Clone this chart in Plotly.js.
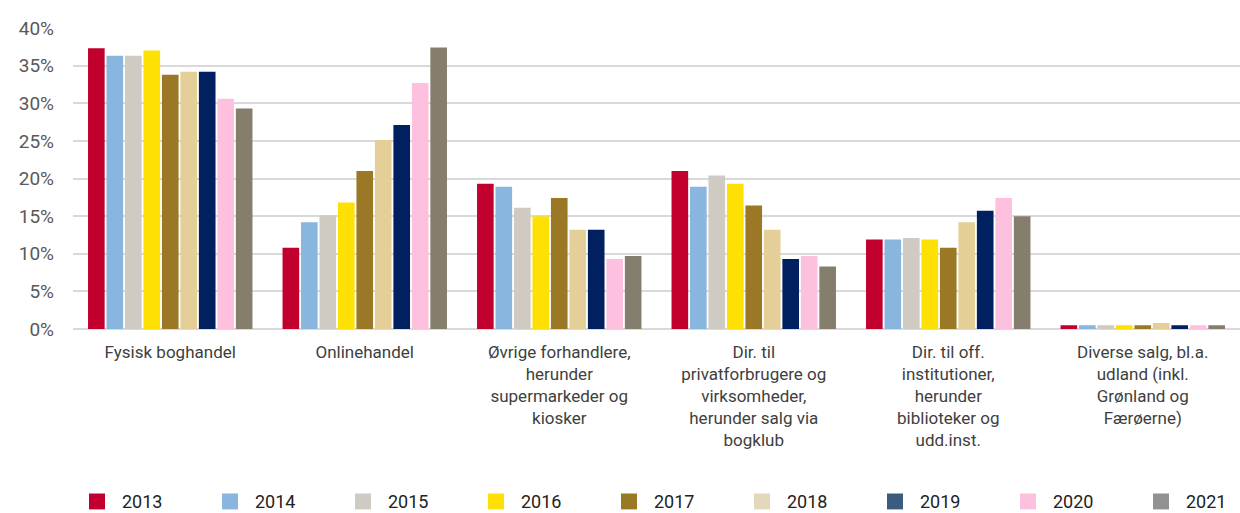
<!DOCTYPE html>
<html><head><meta charset="utf-8">
<script src="https://cdn.plot.ly/plotly-3.0.1.min.js"></script>
<style>html,body{margin:0;padding:0;background:#fff}#chart{width:1240px;height:513px}</style>
</head><body><div id="chart"></div>
<script>
const categories = [
  "Fysisk boghandel",
  "Onlinehandel",
  "Øvrige forhandlere,<br>herunder<br>supermarkeder og<br>kiosker",
  "Dir. til<br>privatforbrugere og<br>virksomheder,<br>herunder salg via<br>bogklub",
  "Dir. til off.<br>institutioner,<br>herunder<br>biblioteker og<br>udd.inst.",
  "Diverse salg, bl.a.<br>udland (inkl.<br>Grønland og<br>Færøerne)"
];
const years = ["2013","2014","2015","2016","2017","2018","2019","2020","2021"];
const v2013 = [37.3, 10.8, 19.3, 21.0, 11.9, 0.5];
const v2014 = [36.3, 14.2, 18.9, 18.9, 11.9, 0.5];
const v2015 = [36.3, 15.1, 16.1, 20.4, 12.1, 0.5];
const v2016 = [37.0, 16.8, 15.0, 19.3, 11.9, 0.5];
const v2017 = [33.8, 21.0, 17.4, 16.4, 10.8, 0.5];
const v2018 = [34.2, 25.1, 13.2, 13.2, 14.2, 0.8];
const v2019 = [34.2, 27.1, 13.2, 9.3, 15.7, 0.5];
const v2020 = [30.6, 32.7, 9.3, 9.7, 17.4, 0.5];
const v2021 = [29.3, 37.4, 9.7, 8.3, 15.0, 0.5];
const seriesValues = [v2013, v2014, v2015, v2016, v2017, v2018, v2019, v2020, v2021];
const barColors = ["#c1002e","#88b6de","#cfcbc3","#fee005","#9b7825","#e5cf98","#00205f","#fdc1df","#857e6d"];
const legendColors = ["#c1002e","#88b6de","#cfcbc3","#fee005","#9b7825","#e2d8bc","#3b5c80","#fdc1df","#919191"];
const yTicks = [0,5,10,15,20,25,30,35,40];
const yTickText = yTicks.map(t => t + "%");

const FONT = "Roboto, 'DejaVu Sans', sans-serif";
const traces = [];
years.forEach((yr, i) => {
  traces.push({
    type: "bar", name: yr, x: categories, y: seriesValues[i],
    marker: {color: barColors[i]}, showlegend: false, hoverinfo: "x+y"
  });
});
years.forEach((yr, i) => {
  traces.push({
    type: "scatter", mode: "markers", name: yr, x: [null], y: [null],
    marker: {symbol: "square", size: 16, color: legendColors[i]}, showlegend: true,
    legend: i < 8 ? "legend" : "legend2"
  });
});

const legendBase = {
  orientation: "h", xref: "container", yref: "container",
  xanchor: "left", y: 0.022, yanchor: "middle",
  entrywidth: 78, entrywidthmode: "pixels", itemwidth: 40,
  font: {family: FONT, size: 18, color: "#222"},
  itemclick: false, tracegroupgap: 0, bgcolor: "rgba(0,0,0,0)"
};

const layout = {
  width: 1240, height: 513,
  margin: {l: 73, r: 0, t: 28, b: 183.5},
  paper_bgcolor: "#fff", plot_bgcolor: "#fff",
  barmode: "group", bargap: 0.145, bargroupgap: 0.1,
  font: {family: FONT, size: 17, color: "#404040"},
  xaxis: {
    type: "category", showgrid: false, zeroline: false, showline: false,
    ticks: "", ticklabelstandoff: 11,
    tickfont: {family: FONT, size: 17, color: "#404040"}
  },
  yaxis: {
    range: [0, 40], tickvals: yTicks, ticktext: yTickText,
    showgrid: true, gridcolor: "#d9d9d9", gridwidth: 2,
    zeroline: true, zerolinecolor: "#d9d9d9", zerolinewidth: 2,
    showline: false, ticks: "", ticklabelstandoff: 18,
    tickfont: {family: FONT, size: 19, color: "#595959"}
  },
  showlegend: true,
  legend: Object.assign({}, legendBase, {x: 72 / 1240}),
  legend2: Object.assign({}, legendBase, {x: (72 + 8 * 133) / 1240})
};
Plotly.newPlot("chart", traces, layout, {displayModeBar: false, staticPlot: true});
</script>
</body></html>
